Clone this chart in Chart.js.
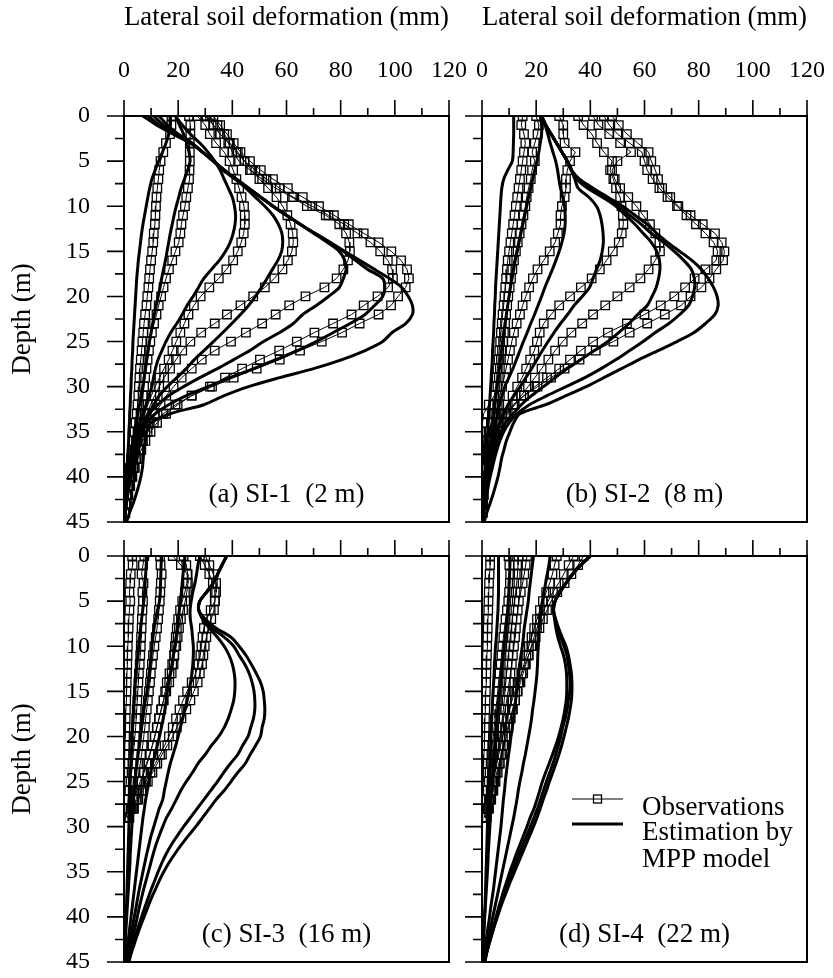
<!DOCTYPE html>
<html>
<head>
<meta charset="utf-8">
<title>Lateral soil deformation</title>
<script src="https://cdn.jsdelivr.net/npm/chart.js@4.4.1/dist/chart.umd.min.js"></script>
<style>
  html, body { margin: 0; background: #fff; }
  #wrap { position: relative; width: 833px; height: 978px; }
  #wrap canvas { position: absolute; left: 0; top: 0; }
</style>
</head>
<body>
<div id="wrap">
  <canvas id="si1" width="833" height="978"></canvas>
  <canvas id="si2" width="833" height="978"></canvas>
  <canvas id="si3" width="833" height="978"></canvas>
  <canvas id="si4" width="833" height="978"></canvas>
</div>
<script>
// depths (m) of the inclinometer readings and of the model output
const obsDepthLong = [0,1,2,3,4,5,6,7,8,9,10,11,12,13,14,15,16,17,18,19,20,21,22,23,24,25,26,27,28,29,30,31,32,33,34,35,36,37,38,39,40,41,42,43,44];
const obsDepthShort = [0,1,2,3,4,5,6,7,8,9,10,11,12,13,14,15,16,17,18,19,20,21,22,23,24,25,26,27,28,29];
const estDepth = [0,1,2,3,4,5,6,7,8,9,10,11,12,13,14,15,16,17,18,19,20,21,22,23,24,25,26,27,28,29,30,31,32,33,34,35,36,37,38,39,40,41,42,43,44,45];

const xTickLabels = [0, 20, 40, 60, 80, 100, 120];
const yTickLabels = [0, 5, 10, 15, 20, 25, 30, 35, 40, 45];
const xTickMarks = [0, 10, 20, 30, 40, 50, 60, 70, 80, 90, 100, 110, 120];
const yTickMarks = [0, 2.5, 5, 7.5, 10, 12.5, 15, 17.5, 20, 22.5, 25, 27.5, 30, 32.5, 35, 37.5, 40, 42.5, 45];

// SI-1 (2 m)
const obsSI1 = [
  [17.5,17.5,17,15.5,14.5,13.5,13,12.7,12.3,12,11.8,11.6,11.4,11,10.8,10.4,10,9.6,9.3,9,8.6,8.3,7.8,7.4,7.1,6.8,6.5,6.2,5.9,5.7,5.5,5.3,5,4.7,4.3,3.9,3.5,3,2.6,2.2,1.8,1.4,1,0.6,0.3],
  [24,24.5,24.5,24.3,24.3,24.3,24.2,24,23.6,23,22.5,21.8,21.2,20.8,20.2,19,17.8,16.6,15.5,14.6,13.7,12.8,12,11.1,10.3,9.7,9.2,8.7,8.3,7.8,7.4,7,6.6,6.1,5.6,5,4.4,3.8,3.2,2.7,2.2,1.7,1.2,0.8,0.4],
  [27,30,31.7,34,37,39,40.3,41.5,42.5,43.4,44.3,44.6,44.6,44.2,43.3,42,40.3,37.8,35,31.5,28.3,25.8,23.8,22.3,20.8,19.3,17.9,16.5,14.8,13.1,11.5,10.1,8.8,7.6,6.5,5.5,4.7,3.9,3.2,2.6,2,1.5,1,0.6,0.3],
  [30,33,35.4,39,42,44.5,47,50,53.2,56.3,58.6,60.3,61.5,62.3,62.5,62,60.5,58.5,55.5,52,47.7,43,38,33.5,28.5,24.5,21.5,19.2,17,14.8,13,11.3,9.8,8.4,7.1,6,5,4.2,3.5,2.8,2.2,1.6,1.1,0.7,0.3],
  [30.5,33,35.5,38.5,40,42.5,46.5,51,56,62,67.5,74.5,79.5,82,83.2,83.4,82.7,81,78.5,74,67,61,56,51,45,39.5,33.5,28.7,25,21.3,18.3,15.6,13.5,11.3,9.5,7.9,6.6,5.4,4.4,3.5,2.7,2,1.4,0.9,0.4],
  [31.7,34.5,37,39,41.5,44.5,48.5,52.6,57.5,62.5,69.5,75.5,81.3,86.2,91,94.6,97.4,99,99.3,97.5,93.6,88.5,84,77.2,70.3,63.8,57.3,50.2,43.6,37.3,31.7,25,19.8,15.5,12.2,9.8,7.9,6.4,5.1,4,3.1,2.3,1.6,1,0.5],
  [33,35.5,38,40.5,43,46.5,50.5,55,60.5,66,72,77.5,83,88.5,94,98.7,102.3,104.5,105.2,104,101.2,98.6,94,87,80.5,73,65,57.5,49,40.5,32.5,25,19,14.5,11,8.7,7,5.6,4.5,3.6,2.8,2.1,1.4,0.9,0.4]
];
const estSI1 = [
  [17,17,16.5,15.5,14.2,12.8,11.5,10.3,9.5,8.8,8.2,7.6,7,6.5,6.1,5.7,5.3,5,4.7,4.5,4.3,4.1,3.9,3.7,3.5,3.3,3.2,3,2.9,2.7,2.6,2.4,2.3,2.1,2,1.8,1.7,1.5,1.3,1.1,0.9,0.7,0.5,0.3,0.2,0],
  [19,20.5,22,23.2,24,24.4,23.5,22.3,21.1,20.2,19.3,18.5,17.8,17.1,16.5,15.9,15.3,14.6,13.9,13.3,12.6,11.9,11.2,10.6,10,9.4,8.9,8.4,7.9,7.4,6.9,6.3,5.7,5.1,4.5,4,3.4,2.9,2.4,1.9,1.5,1.1,0.8,0.5,0.2,0],
  [19,21.5,24.5,28,31,33.5,35.5,37,38.5,40,40.8,41.2,41,40.3,39.2,37.5,35.2,32.3,29.5,27.5,25.5,23.3,21.5,19.5,17.3,15.5,14,12.6,11.6,10.9,10.3,9.2,8.2,7,5.9,4.9,4,3.3,2.7,2.2,1.7,1.3,0.9,0.6,0.3,0],
  [13,16,20,25,29,33,36.5,41,45,48.5,52,55,57,58.3,58.6,58.2,56.8,54.8,52.8,50.8,48.5,46,43,39.8,36.5,33,29.5,26,23,19.5,16,13,11,9,7.4,6,4.9,4,3.3,2.7,2.1,1.6,1.2,0.8,0.4,0],
  [11,14.5,19.5,25,29,33,37,41.5,46,50.5,55,60,65,70,75,79.5,81.5,82,81,79.5,75.5,71,66,62.5,57.5,51.5,46.5,40.5,34.5,28,22,16.5,12.5,9.3,7.2,5.8,4.8,4,3.3,2.7,2.1,1.6,1.2,0.8,0.4,0],
  [9,13,18.5,24.5,29,33,37,41.5,46,50.5,55,60,65,70.5,76,81,85.5,90,95.5,96.3,95.5,92.5,89,83.5,77.3,71,64,56,48,39,31,23,16.5,11.5,8.5,6.8,5.6,4.6,3.8,3.1,2.5,1.9,1.4,0.9,0.5,0],
  [7,12,18,24.5,29,33,37,41.5,46,50.5,55,60,65,70.5,76,81.5,87,92.5,98,102.5,105,106.5,106.5,104,99,95.5,89,80.5,70,57.5,46,37,29.5,17,10,8.4,7.8,7.4,7.1,6.8,6.2,5.4,4.4,3.3,2,1]
];

// SI-2 (8 m)
const obsSI2 = [
  [15,14.5,15.5,16,15.5,15,14.5,14,13.5,13,12.5,12,11.5,11,10.5,10,9.5,9.2,8.9,8.6,8.3,8,7.6,7.3,7,6.7,6.4,6.1,5.7,5.4,5,4.6,4.2,3.8,3.3,2.8,2.4,2,1.6,1.3,1,0.8,0.6,0.4,0.2],
  [20,21,20.5,19.5,18.5,19.5,18.5,18,17.2,16.5,16,15.3,14.6,13.9,13.2,12.5,11.8,11.2,10.7,10.2,9.7,9.3,8.9,8.5,8.1,7.8,7.4,7,6.6,6.2,5.7,4.5,2.5,0.6,0.2,-0.6,0.4,0.8,0.9,0.8,0.7,0.5,0.3,0.2,0.1],
  [28.5,30,30,30.5,34.5,32.5,31.5,31,31,30.5,29.5,29,29,28,27,25,22.8,20.5,18.8,17.4,16.2,15,14,12.8,11.8,11,10.3,9.6,8.9,8.2,7.4,6.6,5.8,4.9,3.6,2.4,1.9,1.5,1.2,0.9,0.7,0.5,0.3,0.2,0.1],
  [35.5,37.5,40.5,42.5,45,48,47.3,48.5,49.5,51,51.5,52,52.2,51.6,50.5,48.3,46,43.5,40.5,36.5,32.5,28.5,25.5,22.8,21.3,20.3,19.3,17.8,16.3,14.8,13,11.3,9.5,7.5,5.5,3.8,2.8,2.2,1.7,1.3,1,0.7,0.5,0.3,0.1],
  [41,43,47,51,55,50,48,49,51,54,57,59.5,62,64,65.5,65.7,64,61.5,58.5,54.5,50,45.5,41,37,33,29.8,27,24.5,22,19.5,17,14.5,12,9.5,7,5,3.6,2.7,2,1.5,1.1,0.8,0.5,0.3,0.1],
  [45,47,50,54.5,59,60,61,63,65.5,68.5,72,75.5,79,82.5,85.5,87,86.5,82.5,78.5,75,71,66,60,53.5,46.5,41,36.5,32.5,28.5,24,19.5,15.5,12,9,6.5,4.6,3.4,2.6,2,1.5,1.1,0.8,0.5,0.3,0.1],
  [48,50.5,53.5,57.5,61.5,62.5,64,65,66.5,69.5,72.5,77,81.5,86,88.5,89.5,89,86.5,84,81,77,73.5,67.5,61,54.5,48.5,42,36,30.5,25.5,20.5,15.5,11.5,8.5,6,4.4,3.3,2.5,1.9,1.4,1,0.7,0.5,0.3,0.1]
];
const estSI2 = [
  [11.7,11.7,11.7,11.6,11.5,11.2,9.5,8,7.3,7,6.8,6.6,6.4,6.2,6,5.8,5.6,5.4,5.2,5,4.9,4.7,4.6,4.4,4.3,4.1,3.9,3.8,3.6,3.4,3.2,3,2.8,2.5,2.3,2.1,1.9,1.6,1.4,1.2,1,0.8,0.6,0.4,0.2,0],
  [21.5,22,22,21.5,21,20.3,19.5,18.7,18,17.2,16.5,15.8,15.1,14.4,13.7,13,12.3,11.7,11.1,10.5,10,9.5,9,8.5,8,7.6,7.2,6.8,6.4,6,5.6,5.2,4.8,4.4,4,3.6,3.2,2.8,2.4,2,1.6,1.2,0.9,0.6,0.3,0],
  [22,23.3,24.3,25.2,26.2,27.2,27.9,28.4,29,29.8,30.5,30.7,30.7,30.3,29.5,28.5,27.3,26,24.6,23.2,22,20.7,19.4,18,16.7,15.3,14,12.7,11.4,9.9,8.4,7.4,6.5,5.7,5,4.4,3.9,3.4,2.9,2.4,1.9,1.5,1.1,0.7,0.3,0],
  [22,23.5,25.5,27.5,29.5,31.5,33,34.3,35.5,39.5,42.3,43.6,44.3,44.7,44.8,44.4,43.6,42.3,41,39.7,37,34,31.6,29,26.6,24.4,22.3,20.3,18.3,16.2,14.1,11.8,9.6,8,6.6,5.5,4.6,3.8,3.1,2.5,2,1.5,1,0.6,0.3,0],
  [22,23.5,25.5,27.5,29.5,31.5,33,35,39,44.5,49.5,53,56.5,59.5,62.5,64.5,65.5,65.7,65.2,64.3,62.8,61,57.5,54.3,50.5,46.5,41.5,36.5,31.5,27,22.7,18.3,14.5,11.5,8.7,7,5.6,4.6,3.8,3.1,2.4,1.8,1.3,0.8,0.4,0],
  [22,23.5,25.5,27.5,29.5,31.5,33,35.5,40,45.5,50.5,54.5,58.8,62.5,67,71,74.5,77.3,78.4,78.5,77.7,76.3,73,69,64,59.5,54.5,49.5,44,38,31,24,17.5,13,10,8,6.6,5.5,4.6,3.8,3,2.3,1.7,1.1,0.5,0],
  [22,23.5,25.5,27.5,29.5,31.5,33,36,41,46.5,52,56.5,61,64.5,68.5,73,77.5,81,83.5,85.5,86.8,87.2,86,82.5,78.3,72,65,58,51.5,45,38.5,31,23.5,14,11.7,10.3,9,8.1,7.2,6.6,5.9,5,4,2.9,1.7,0.8]
];

// SI-3 (16 m)
const obsSI3 = [
  [3,3.2,2.5,2.3,2,2.3,2,1.8,1.7,1.5,1.4,1.3,1.2,1.1,1,0.9,0.8,0.7,0.6,0.5,0.4,0.3,0.3,0.2,0.2,0.1,0.1,0,0,0],
  [7.5,7,6.5,7.2,6.8,7,6.8,6.6,6.5,6.3,6.2,6,5.8,5.5,5.3,5.1,4.9,4.7,4.5,4.3,4,3.7,3.4,3.1,2.8,2.4,2,1.6,1.2,0.8],
  [13.3,13.5,13.9,13.6,13.4,13.2,12.9,12.6,12.2,11.7,11.2,10.7,10.3,9.9,9.6,9.2,8.8,8.4,8,7.7,7.3,6.9,6.5,6,5.5,5,4.4,3.6,2.6,1.5],
  [18,21,23.3,23.6,23.2,22.6,21.8,21,20.3,19.8,19.3,18.6,17.8,16.8,15.8,15.2,14.6,13.8,13,12.2,11.4,10.5,9.6,8.6,7.4,6.5,5.5,4.4,3.2,1.8],
  [22,23,23.5,23.2,22.5,21.5,20.7,20,19.5,19.1,18.8,18.5,18.3,17.6,16.7,15.6,14.6,13.7,12.9,12.1,11.3,10.4,9.4,8.3,7.2,6,4.8,3.6,2.4,1.2],
  [28,29.8,31.5,32.8,33.5,33.6,33.2,32.2,31.2,30.4,29.8,29.3,28.8,28,27.2,25.8,24.5,23,21.2,19.5,18,16,14,12.3,10.5,8.8,7,5.3,3.7,2],
  [30,31.5,33,34,34,33.5,32,30.5,29.5,29,28.6,28.2,27.5,26.5,25,23.3,21.8,20.5,19.2,18,16.6,15,13.3,11.6,9.8,8.1,6.4,4.8,3.3,1.8]
];
const estSI3 = [
  [8.4,8.2,8,7.8,7.6,7.3,6.9,6.5,6.1,5.8,5.4,5.1,4.8,4.5,4.2,4,3.8,3.6,3.4,3.2,3,2.9,2.7,2.6,2.4,2.3,2.2,2.1,2,1.9,1.8,1.7,1.6,1.5,1.4,1.3,1.2,1.1,1,0.9,0.8,0.6,0.5,0.4,0.2,0.1],
  [13.9,13.7,13.6,13.5,13.4,13.1,12.4,11.7,11.1,10.7,10.3,10,9.7,9.3,8.9,8.5,7.9,7.4,7,6.5,6.1,5.7,5.2,4.8,4.4,4.1,3.8,3.5,3.3,3.1,2.9,2.7,2.5,2.3,2.2,2,1.8,1.6,1.4,1.2,1,0.8,0.6,0.4,0.2,0.1],
  [22.5,22.2,21.8,21.5,21.2,20.8,20.4,20.1,19.7,19.2,18.7,18.2,17.7,17.1,16.5,16,15.6,15.1,14.5,13.8,13.1,12.3,11.5,10.5,9.8,9.2,8.6,8,7.5,7,6.6,6.2,5.8,5.4,5,4.6,4.2,3.8,3.4,3,2.6,2.2,1.8,1.4,1,0.6],
  [28,27.3,26.8,26.2,25.4,24.8,24.4,24.5,25,25.3,25.6,25.6,25.4,25.1,24.6,24,23.3,22.5,21.7,20.8,20,19.1,18.1,17.1,16.3,15.6,14.9,14.3,13,12,11,10,9.2,8.4,7.7,7,6.3,5.6,5,4.4,3.8,3.2,2.6,2,1.5,1],
  [37.9,36.2,34.6,33,30.5,28,27.6,29,31.5,34.5,37,38.8,40,40.7,41,40.9,40.5,39.6,38.5,37,35,32.3,30,27.3,25.3,23,21,19.3,17.6,15.7,14.3,13,11.8,10.8,9.9,9,8.1,7.2,6.4,5.6,4.9,4.2,3.5,2.8,2.1,1.5],
  [37.9,36.2,34.6,33,30.5,28,27.6,29.5,32.5,37,40.5,42.5,44.6,46.2,47.3,48,48.3,48.3,47.8,46.8,45.8,43.8,42,39.3,36.8,34.5,32,29.5,27,24.5,22,19.7,17.5,15.6,14,12.6,11.3,10,8.8,7.6,6.5,5.4,4.4,3.4,2.5,1.7],
  [37.9,36.2,34.6,33,30.5,28,27.6,30,34,39.5,42.5,45,47,48.8,50.4,51.4,51.8,52,51.8,51,50.4,48.6,46.6,44.8,42,39.5,37,34,31.5,29,26.5,23.8,21.2,18.8,16.6,14.7,13,11.5,10,8.7,7.4,6.1,4.9,3.8,2.7,1.8]
];

// SI-4 (22 m)
const obsSI4 = [
  [3,3,2.8,2.6,2.5,2.4,2.3,2.2,2.1,2,1.9,1.8,1.7,1.6,1.5,1.4,1.3,1.2,1.1,1,0.9,0.8,0.7,0.6,0.5,0.4,0.3,0.2,0.1,0],
  [9.8,10.1,10.4,10.3,10,9.7,9.2,8.7,8.3,7.9,7.5,7.2,6.9,6.5,6.1,5.8,5.5,5.1,4.8,4.5,4.2,3.8,3.5,3.2,2.8,2.5,2.1,1.7,1.3,0.9],
  [13.5,13.3,13.1,12.8,12.4,12,11.6,11.2,10.8,10.4,10,9.7,9.4,9.1,8.8,8.5,8.2,7.9,7.5,7.1,6.7,6.3,5.8,5.3,4.8,4.2,3.6,2.9,2.2,1.5],
  [16.6,16.1,15.6,15,14.3,13.6,13.2,12.8,12.5,12.2,11.8,11.4,11,10.5,10,9.6,9.1,8.6,8,7.4,6.8,6.2,5.6,5,4.4,3.8,3.2,2.6,2,1.4],
  [27.6,26.8,26,25,23.7,22.5,21.4,20.3,19.3,18.3,17.3,16.4,15.5,14.6,13.8,13,12.2,11.4,10.6,9.8,9,8.2,7.4,6.6,5.8,5,4.2,3.4,2.6,1.8],
  [33.8,32,30.2,28.3,26.2,24.4,22.8,21.4,20.3,19.2,18.2,17.2,16.2,15.2,14.2,13.2,12.2,11.3,10.4,9.5,8.6,7.8,7,6.2,5.4,4.6,3.8,3,2.2,1.4],
  [37.5,35.5,33,30.5,27.8,25.5,24,22.5,21.2,19.8,18.5,17.2,15.9,14.6,13.4,12.2,11.1,10.2,9.3,8.5,7.7,6.9,6.2,5.5,4.8,4.1,3.4,2.7,2,1.3]
];
const estSI4 = [
  [6.1,6.1,6.1,6.1,6.1,6,5.9,5.7,5.5,5.3,5,4.8,4.6,4.5,4.3,4.1,3.9,3.8,3.6,3.5,3.3,3.2,3,2.9,2.7,2.6,2.5,2.3,2.2,2.1,2,1.9,1.8,1.7,1.6,1.5,1.4,1.3,1.2,1.1,0.9,0.8,0.6,0.4,0.3,0.1],
  [10.4,10.3,10.2,10,9.9,9.7,9.5,9.2,8.9,8.6,8.2,7.8,7.4,7.1,6.8,6.5,6.1,5.8,5.5,5.2,4.9,4.7,4.4,4.2,4,3.8,3.6,3.4,3.2,3,2.9,2.7,2.5,2.3,2.2,2,1.8,1.6,1.4,1.2,1,0.8,0.6,0.4,0.3,0.1],
  [19,18.6,18.2,17.8,17.4,17.1,16.6,16.1,15.6,15.3,14.9,14.4,13.9,13.6,13.2,12.8,12.4,12,11.6,11.2,10.7,10.3,9.8,9.4,9,8.6,8.3,7.9,7.6,7.3,7,6.6,6.2,5.8,5.4,5,4.6,4.2,3.7,3.2,2.8,2.3,1.8,1.3,0.8,0.4],
  [25.2,24.7,24.1,23.5,22.9,22.3,21.7,21.4,21.1,20.9,20.8,20.6,20.5,20.3,20,19.6,19.2,18.7,18.3,17.8,17.2,16.6,16,15.3,14.7,14,13.4,12.9,12.3,11.7,11,10.3,9.6,8.9,8.2,7.5,6.8,6.1,5.4,4.7,4,3.3,2.6,1.9,1.3,0.7],
  [40,36.5,33.5,31,28.8,27,26.4,26.8,27.3,28,29,30.1,30.8,31.2,31.3,31.3,31.1,30.6,30,29.2,28.3,27.2,26,24.8,23.5,22.3,21.3,20.3,19.2,17.8,16.6,15.3,14,12.7,11.5,10.3,9.2,8.1,7.1,6.1,5.2,4.3,3.4,2.5,1.7,1],
  [40,36.5,33.5,31,28.8,27,26.4,27,27.8,29,30.3,31.3,31.9,32.3,32.5,32.4,31.9,31.4,30.7,29.8,29.1,28.2,27.2,26.2,25,23.8,22.7,21.6,20.5,19.2,17.9,16.5,15.1,13.8,12.5,11.2,10,8.8,7.6,6.5,5.5,4.5,3.5,2.6,1.7,1],
  [40,36.5,33.5,31,28.8,27,26.4,27.2,28.3,29.6,31,31.9,32.5,33,33.2,33.2,33,32.5,31.9,31.1,30.3,29.4,28.4,27.3,26.1,24.9,23.8,22.6,21.5,20.3,19,17.6,16.2,14.8,13.4,12,10.6,9.3,8,6.8,5.7,4.6,3.6,2.6,1.7,1]
];

const FONT = '"Liberation Serif", "Times New Roman", serif';
const PAGE_W = 833, PAGE_H = 978;

function toPoints(values, depths) {
  return values.map((v, i) => ({ x: v, y: depths[i] }));
}

function buildDatasets(obs, est, obsDepth) {
  const sets = [];
  est.forEach(vals => sets.push({
    data: toPoints(vals, estDepth),
    showLine: true,
    borderColor: '#000',
    borderWidth: 3,
    borderCapStyle: 'round',
    borderJoinStyle: 'round',
    pointRadius: 0,
    tension: 0.3
  }));
  obs.forEach(vals => sets.push({
    data: toPoints(vals, obsDepth),
    showLine: true,
    borderColor: '#000',
    borderWidth: 1,
    tension: 0,
    pointStyle: 'rect',
    pointRadius: 6,
    pointBorderWidth: 1.3,
    pointBorderColor: '#000',
    pointBackgroundColor: 'rgba(0,0,0,0)'
  }));
  return sets;
}

// frame, major/minor tick marks, panel caption and the key
const panelFrame = {
  id: 'panelFrame',
  afterDraw(chart, args, opts) {
    const { ctx, chartArea: a, scales: { x, y } } = chart;
    ctx.save();
    ctx.strokeStyle = '#000';
    ctx.lineWidth = 1.6;
    ctx.beginPath();
    xTickMarks.forEach(v => {
      const px = x.getPixelForValue(v);
      const len = v % 20 === 0 ? 16 : 8;
      ctx.moveTo(px, a.top);
      ctx.lineTo(px, a.top - len);
    });
    yTickMarks.forEach(v => {
      const py = y.getPixelForValue(v);
      const len = v % 5 === 0 ? 17 : 9;
      ctx.moveTo(a.left, py);
      ctx.lineTo(a.left - len, py);
    });
    ctx.stroke();
    ctx.lineWidth = 2;
    ctx.strokeRect(a.left, a.top, a.right - a.left, a.bottom - a.top);

    ctx.fillStyle = '#000';
    ctx.font = '27px ' + FONT;
    ctx.textAlign = 'center';
    ctx.textBaseline = 'alphabetic';
    ctx.fillText(opts.label, (a.left + a.right) / 2, a.bottom - 20);

    if (opts.key) {
      const x0 = a.left + 90, x1 = a.left + 141, tx = a.left + 160;
      const yObs = a.top + 243, yEst = a.top + 268;
      ctx.lineWidth = 1;
      ctx.beginPath();
      ctx.moveTo(x0, yObs);
      ctx.lineTo(x1, yObs);
      ctx.stroke();
      ctx.lineWidth = 1.3;
      ctx.strokeRect((x0 + x1) / 2 - 4, yObs - 4, 8, 8);
      ctx.lineWidth = 3;
      ctx.beginPath();
      ctx.moveTo(x0, yEst);
      ctx.lineTo(x1, yEst);
      ctx.stroke();
      ctx.textAlign = 'left';
      ctx.fillText('Observations', tx, yObs + 16);
      ctx.fillText('Estimation by', tx, yEst + 16);
      ctx.fillText('MPP model', tx, yEst + 43);
    }
    ctx.restore();
  }
};

const panels = [
  { id: 'si1', label: '(a) SI-1  (2 m)', obs: obsSI1, est: estSI1, obsDepth: obsDepthLong,
    left: 124, right: 449, top: 116, bottom: 522, xText: true, yText: true, key: false },
  { id: 'si2', label: '(b) SI-2  (8 m)', obs: obsSI2, est: estSI2, obsDepth: obsDepthLong,
    left: 482, right: 807, top: 116, bottom: 522, xText: true, yText: false, key: false },
  { id: 'si3', label: '(c) SI-3  (16 m)', obs: obsSI3, est: estSI3, obsDepth: obsDepthShort,
    left: 124, right: 449, top: 556, bottom: 962, xText: false, yText: true, key: false },
  { id: 'si4', label: '(d) SI-4  (22 m)', obs: obsSI4, est: estSI4, obsDepth: obsDepthShort,
    left: 482, right: 807, top: 556, bottom: 962, xText: false, yText: false, key: true }
];

panels.forEach(p => {
  new Chart(document.getElementById(p.id), {
    type: 'scatter',
    data: { datasets: buildDatasets(p.obs, p.est, p.obsDepth) },
    options: {
      responsive: false,
      animation: false,
      events: [],
      layout: { padding: { left: 0, top: 0, right: PAGE_W - p.right, bottom: PAGE_H - p.bottom } },
      plugins: {
        legend: { display: false },
        tooltip: { enabled: false },
        panelFrame: { label: p.label, key: p.key }
      },
      scales: {
        x: {
          type: 'linear',
          position: 'top',
          min: 0,
          max: 120,
          afterBuildTicks: s => { s.ticks = xTickLabels.map(v => ({ value: v })); },
          afterFit: s => { s.height = p.top; s.paddingLeft = 0; s.paddingRight = 0; },
          grid: { display: false, drawTicks: false },
          border: { display: false },
          ticks: { display: p.xText, autoSkip: false, maxRotation: 0, padding: 31, color: '#000',
                   font: { family: FONT, size: 24 } },
          title: { display: p.xText, text: 'Lateral soil deformation (mm)', color: '#000',
                   font: { family: FONT, size: 27 }, padding: { top: 2, bottom: 0 } }
        },
        y: {
          type: 'linear',
          position: 'left',
          reverse: true,
          min: 0,
          max: 45,
          afterBuildTicks: s => { s.ticks = yTickLabels.map(v => ({ value: v })); },
          afterFit: s => { s.width = p.left; s.paddingTop = 0; s.paddingBottom = 0; },
          grid: { display: false, drawTicks: false },
          border: { display: false },
          ticks: { display: p.yText, autoSkip: false, padding: 34, color: '#000',
                   font: { family: FONT, size: 24 } },
          title: { display: p.yText, text: 'Depth (m)', color: '#000',
                   font: { family: FONT, size: 27 }, padding: { top: 7, bottom: 0 } }
        }
      }
    },
    plugins: [panelFrame]
  });
});
</script>
</body>
</html>
